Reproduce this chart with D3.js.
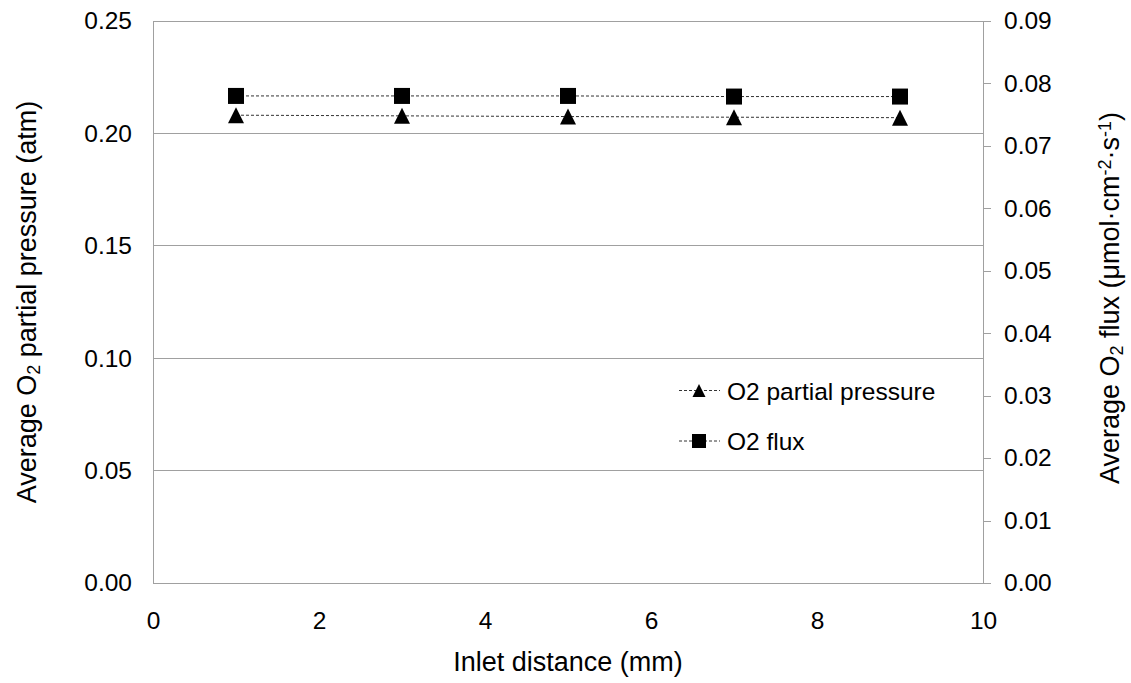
<!DOCTYPE html>
<html>
<head>
<meta charset="utf-8">
<script src="https://cdn.jsdelivr.net/npm/d3@7"></script>
<style>
  body { margin: 0; background: #fff; }
  svg text { font-family: "Liberation Sans", Arial, sans-serif; fill: #000; }
</style>
</head>
<body>
<svg id="chart" width="1131" height="683"></svg>
<script>
// Inlet distance (mm)
const distance = [1, 3, 5, 7, 9];
// Average O2 partial pressure (atm), left axis
const pressure = [0.2081, 0.2078, 0.2075, 0.2072, 0.2070];
// Average O2 flux (umol cm^-2 s^-1), right axis
const flux = [0.0780, 0.0780, 0.0780, 0.0779, 0.0779];

const xTicks = [0, 2, 4, 6, 8, 10];
const leftTicks = [0, 0.05, 0.10, 0.15, 0.20, 0.25];
const rightTicks = [0, 0.01, 0.02, 0.03, 0.04, 0.05, 0.06, 0.07, 0.08, 0.09];

const plot = { left: 153, right: 983, top: 21, bottom: 583 };
const svg = d3.select("#chart");

const x = d3.scaleLinear().domain([0, 10]).range([plot.left, plot.right]);
const yL = d3.scaleLinear().domain([0, 0.25]).range([plot.bottom, plot.top]);
const yR = d3.scaleLinear().domain([0, 0.09]).range([plot.bottom, plot.top]);

const gridColor = "#a0a0a0";
const tickFont = 24.5;
const titleFont = 27;
const fontFamily = "Liberation Sans, Arial, sans-serif";

// horizontal gridlines from the left axis
svg.append("g").selectAll("line").data(leftTicks).join("line")
  .attr("x1", plot.left).attr("x2", plot.right)
  .attr("y1", d => yL(d)).attr("y2", d => yL(d))
  .attr("stroke", gridColor).attr("stroke-width", 1)
  .attr("shape-rendering", "crispEdges");

// left frame side
svg.append("line").attr("x1", plot.left).attr("x2", plot.left)
  .attr("y1", plot.top).attr("y2", plot.bottom)
  .attr("stroke", gridColor).attr("shape-rendering", "crispEdges");

// bottom axis
const xAxis = svg.append("g").attr("transform", `translate(0,${plot.bottom})`)
  .call(d3.axisBottom(x).tickValues(xTicks).tickSize(0).tickPadding(29).tickFormat(d3.format("d")));
xAxis.select(".domain").attr("stroke", gridColor).attr("shape-rendering", "crispEdges");
xAxis.selectAll("text").attr("font-size", tickFont).style("font-family", fontFamily);

// left axis
const lAxis = svg.append("g").attr("transform", `translate(${plot.left},0)`)
  .call(d3.axisLeft(yL).tickValues(leftTicks).tickSize(0).tickPadding(21).tickFormat(d3.format(".2f")));
lAxis.select(".domain").remove();
lAxis.selectAll("text").attr("font-size", tickFont).style("font-family", fontFamily);

// right axis
const rAxis = svg.append("g").attr("transform", `translate(${plot.right},0)`)
  .call(d3.axisRight(yR).tickValues(rightTicks).tickSize(8).tickPadding(13).tickFormat(d3.format(".2f")));
rAxis.select(".domain").attr("stroke", gridColor).attr("shape-rendering", "crispEdges");
rAxis.selectAll(".tick line").attr("stroke", gridColor).attr("shape-rendering", "crispEdges");
rAxis.selectAll("text").attr("font-size", tickFont).style("font-family", fontFamily);

// axis titles
svg.append("text").attr("x", (plot.left + plot.right) / 2).attr("y", 671)
  .attr("text-anchor", "middle").attr("font-size", titleFont).text("Inlet distance (mm)");

const lt = svg.append("text").attr("transform", `translate(36,${(plot.top + plot.bottom) / 2}) rotate(-90)`)
  .attr("text-anchor", "middle").attr("font-size", titleFont);
lt.append("tspan").text("Average O");
lt.append("tspan").attr("font-size", 18).attr("baseline-shift", "-22%").text("2");
lt.append("tspan").text(" partial pressure (atm)");

const rt = svg.append("text").attr("transform", `translate(1119,${(plot.top + plot.bottom) / 2 - 4}) rotate(-90)`)
  .attr("text-anchor", "middle").attr("font-size", titleFont);
rt.append("tspan").text("Average O");
rt.append("tspan").attr("font-size", 18).attr("baseline-shift", "-22%").text("2");
rt.append("tspan").text(" flux (\u03bcmol\u00b7cm");
rt.append("tspan").attr("font-size", 18).attr("baseline-shift", "45%").text("-2");
rt.append("tspan").text("\u00b7s");
rt.append("tspan").attr("font-size", 18).attr("baseline-shift", "45%").text("-1");
rt.append("tspan").text(")");

// triangle marker of given width/height, centred on the origin
const tri = (w, h) => `M0,${-h / 2}L${w / 2},${h / 2}L${-w / 2},${h / 2}Z`;

// series
const dash = "3,2";
const lineColor = "#333";

svg.append("path").datum(distance.map((d, i) => [x(d), yR(flux[i])]))
  .attr("d", d3.line()).attr("fill", "none").attr("stroke", lineColor)
  .attr("stroke-width", 1).attr("stroke-dasharray", dash);
svg.append("path").datum(distance.map((d, i) => [x(d), yL(pressure[i])]))
  .attr("d", d3.line()).attr("fill", "none").attr("stroke", lineColor)
  .attr("stroke-width", 1).attr("stroke-dasharray", dash);

const sq = 16;
svg.append("g").selectAll("rect").data(distance).join("rect")
  .attr("x", (d) => x(d) - sq / 2).attr("y", (d, i) => yR(flux[i]) - sq / 2)
  .attr("width", sq).attr("height", sq).attr("fill", "#000");

svg.append("g").selectAll("path").data(distance).join("path")
  .attr("transform", (d, i) => `translate(${x(d)},${yL(pressure[i])})`)
  .attr("d", tri(16, 16)).attr("fill", "#000");

// legend
const legend = [
  { label: "O2 partial pressure", marker: "triangle", y: 390.5 },
  { label: "O2 flux", marker: "square", y: 441 }
];
const lg = svg.append("g");
legend.forEach(item => {
  lg.append("line").attr("x1", 679).attr("x2", 720).attr("y1", item.y).attr("y2", item.y)
    .attr("stroke", lineColor).attr("stroke-width", 1).attr("stroke-dasharray", "3,2");
  if (item.marker === "triangle") {
    lg.append("path").attr("transform", `translate(699,${item.y})`)
      .attr("d", tri(13, 13)).attr("fill", "#000");
  } else {
    lg.append("rect").attr("x", 699 - 7).attr("y", item.y - 7)
      .attr("width", 14).attr("height", 14).attr("fill", "#000");
  }
  lg.append("text").attr("x", 727).attr("y", item.y + 9)
    .attr("font-size", tickFont).text(item.label);
});
</script>
</body>
</html>
